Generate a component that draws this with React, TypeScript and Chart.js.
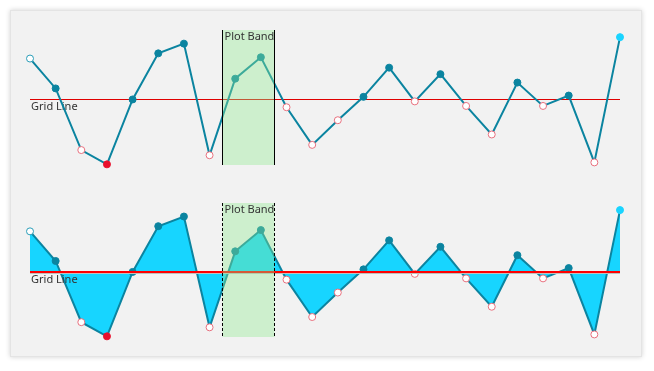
import React, { useEffect, useRef } from "react";
import { Chart, registerables } from "chart.js";

Chart.register(...registerables);

const categories: string[] = Array.from({ length: 24 }, (_, i) => `P${i + 1}`);
const values: number[] = [
  6.3, 1.7, -7.8, -10.0, 0, 7.1, 8.6, -8.6, 3.2, 6.5, -1.2, -7.0,
  -3.2, 0.4, 4.9, -0.3, 3.9, -1.0, -5.4, 2.6, -1.0, 0.6, -9.7, 9.6,
];
const bandFrom = 7.5;
const bandTo = 9.5;
const gridLineValue = 0;
const bandLabel = "Plot Band";
const gridLabel = "Grid Line";

const LINE = "#0b84a0";
const FILL = "#17d5ff";
const NEG_BORDER = "#e8707e";
const MIN_COLOR = "#e8112d";
const MAX_COLOR = "#1ad4ff";
const FONT = '11px "Noto Sans", "Liberation Sans", sans-serif';

function pointStyles() {
  const min = Math.min(...values);
  const max = Math.max(...values);
  const bg: string[] = [];
  const border: string[] = [];
  values.forEach((v, i) => {
    if (i === 0) {
      bg.push("#ffffff");
      border.push("#2a9db8");
    } else if (v === min) {
      bg.push(MIN_COLOR);
      border.push(MIN_COLOR);
    } else if (v === max) {
      bg.push(MAX_COLOR);
      border.push(MAX_COLOR);
    } else if (v < 0) {
      bg.push("#ffffff");
      border.push(NEG_BORDER);
    } else {
      bg.push(LINE);
      border.push(LINE);
    }
  });
  return { bg, border };
}

function makeConfig(filled: boolean, padding: any): any {
  const ps = pointStyles();
  const drawGrid = (chart: any) => {
    const { ctx, chartArea, scales } = chart;
    const y = Math.round(scales.y.getPixelForValue(gridLineValue));
    ctx.save();
    if (filled) {
      ctx.fillStyle = "#c0c0c0";
      ctx.fillRect(chartArea.left, y + 1, chartArea.right - chartArea.left, 1);
      ctx.fillStyle = "#ff0000";
      ctx.fillRect(chartArea.left, y - 1, chartArea.right - chartArea.left, 2);
    } else {
      ctx.fillStyle = "#e00000";
      ctx.fillRect(chartArea.left, y, chartArea.right - chartArea.left, 1);
    }
    ctx.font = FONT;
    ctx.fillStyle = "#333333";
    ctx.textBaseline = "top";
    ctx.textAlign = "left";
    ctx.fillText(gridLabel, chartArea.left + 1, y + 2);
    ctx.restore();
  };
  const plugin = {
    id: "bandAndGrid",
    beforeDatasetsDraw(chart: any) {
      if (!filled) drawGrid(chart);
    },
    afterDatasetsDraw(chart: any) {
      if (filled) drawGrid(chart);
      const { ctx, chartArea, scales } = chart;
      const x1 = Math.round(scales.x.getPixelForValue(bandFrom)) + 0.5;
      const x2 = Math.round(scales.x.getPixelForValue(bandTo)) + 0.5;
      const top = chartArea.top;
      const bottom = chartArea.bottom;
      ctx.save();
      ctx.fillStyle = "rgba(144, 234, 144, 0.38)";
      ctx.fillRect(x1, top, x2 - x1, bottom - top);
      ctx.strokeStyle = "#000000";
      ctx.lineWidth = 1;
      if (filled) ctx.setLineDash([3, 2]);
      ctx.beginPath();
      ctx.moveTo(x1, top);
      ctx.lineTo(x1, bottom);
      ctx.moveTo(x2, top);
      ctx.lineTo(x2, bottom);
      ctx.stroke();
      ctx.setLineDash([]);
      ctx.font = FONT;
      ctx.fillStyle = "#333333";
      ctx.textBaseline = "top";
      ctx.textAlign = "left";
      ctx.fillText(bandLabel, x1 + 2, top + 1);
      ctx.restore();
    },
  };
  return {
    type: "line",
    data: {
      labels: categories,
      datasets: [
        {
          data: values,
          borderColor: LINE,
          borderWidth: 2,
          tension: 0,
          fill: filled ? { target: "origin" } : false,
          backgroundColor: FILL,
          pointRadius: 3.5,
          pointBorderWidth: 1,
          pointBackgroundColor: ps.bg,
          pointBorderColor: ps.border,
          clip: false,
        },
      ],
    },
    options: {
      responsive: false,
      animation: false,
      events: [],
      layout: { padding },
      plugins: { legend: { display: false }, tooltip: { enabled: false } },
      scales: {
        x: { display: false, offset: false },
        y: { display: false, min: -10.1, max: 10.7 },
      },
    },
    plugins: [plugin],
  };
}

function LineCanvas(props: { filled: boolean; top: number; height: number; padding: any }) {
  const ref = useRef<HTMLCanvasElement>(null);
  useEffect(() => {
    if (!ref.current) return;
    const chart = new Chart(ref.current, makeConfig(props.filled, props.padding));
    return () => chart.destroy();
  }, []);
  return (
    <canvas
      ref={ref}
      width={654}
      height={props.height}
      style={{ position: "absolute", left: 0, top: props.top, width: 654, height: props.height }}
    />
  );
}

export default function App() {
  return (
    <div style={{ position: "fixed", left: 0, top: 0, width: 654, height: 371, background: "#ffffff", overflow: "hidden" }}>
      <div
        style={{
          position: "absolute",
          left: 10,
          top: 10,
          width: 630,
          height: 345,
          background: "#f2f2f2",
          border: "1px solid #e4e4e4",
          boxShadow: "0 0 5px rgba(0,0,0,0.18)",
        }}
      />
      <LineCanvas filled={false} top={0} height={185} padding={{ left: 30, right: 34, top: 30, bottom: 20 }} />
      <LineCanvas filled={true} top={185} height={186} padding={{ left: 30, right: 34, top: 18, bottom: 34 }} />
    </div>
  );
}
